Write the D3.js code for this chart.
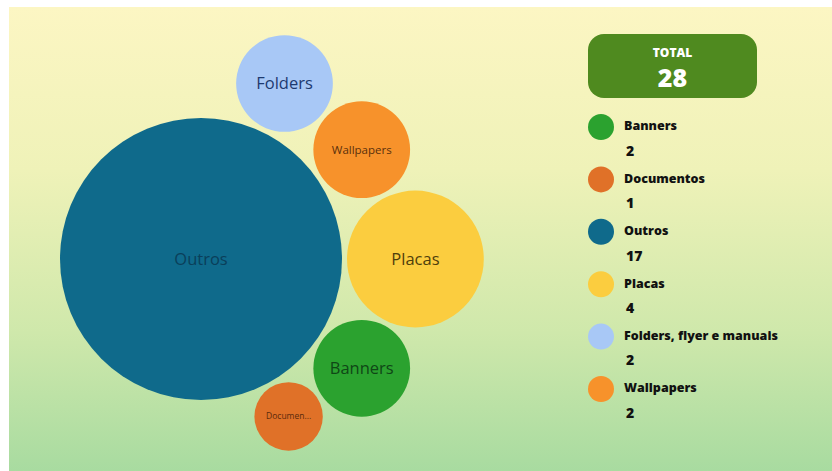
<!DOCTYPE html>
<html>
<head>
<meta charset="utf-8">
<script src="https://cdn.jsdelivr.net/npm/d3@7/dist/d3.min.js"></script>
<style>
html,body{margin:0;padding:0;background:#fff;}
svg{display:block;}
</style>
</head>
<body>
<script>
// ---- data ----
const categories = ["Banners", "Documentos", "Outros", "Placas", "Folders, flyer e manuais", "Wallpapers"];
const values = [2, 1, 17, 4, 2, 2];
const bubbleLabels = ["Banners", "Documen...", "Outros", "Placas", "Folders", "Wallpapers"];
const colors = ["#2ba22f", "#e07128", "#0f6a8b", "#fbcd3f", "#a8c8f6", "#f7922b"];
const labelColors = ["#0f4716", "#5a2a0c", "#0a3f5a", "#4f3f0c", "#1d3a70", "#5a300c"];
const totalLabel = "TOTAL";

const W = 832, H = 471;
const svg = d3.select("body").append("svg").attr("width", W).attr("height", H);

// background
const defs = svg.append("defs");
const grad = defs.append("linearGradient").attr("id", "bg").attr("x1", 0).attr("y1", 0).attr("x2", 0).attr("y2", 1);
grad.append("stop").attr("offset", "0%").attr("stop-color", "#fcf6c3");
grad.append("stop").attr("offset", "35%").attr("stop-color", "#eff2b8");
grad.append("stop").attr("offset", "70%").attr("stop-color", "#cfe8ab");
grad.append("stop").attr("offset", "100%").attr("stop-color", "#a8dba0");
svg.append("rect").attr("x", 9).attr("y", 7).attr("width", W - 9).attr("height", H - 7).attr("fill", "url(#bg)");

// ---- bubbles ----
const data = categories.map((c, i) => ({ name: c, label: bubbleLabels[i], value: values[i], color: colors[i], lc: labelColors[i] }));
const rScale = d3.scaleSqrt().domain([0, d3.max(values)]).range([0, 141]);
data.forEach(d => d.r = rScale(d.value));
const byName = n => data.find(d => d.name === n);
const pad = 5;

// tangent placement of circle c touching a and b (side: +1 / -1)
function place(a, b, c, side) {
  const d1 = a.r + c.r + pad, d2 = b.r + c.r + pad;
  const dx = b.x - a.x, dy = b.y - a.y, D = Math.hypot(dx, dy);
  const x = (d1 * d1 - d2 * d2 + D * D) / (2 * D);
  const h = Math.sqrt(Math.max(0, d1 * d1 - x * x));
  const ux = dx / D, uy = dy / D;
  c.x = a.x + ux * x - uy * h * side;
  c.y = a.y + uy * x + ux * h * side;
}
const outros = byName("Outros"), placas = byName("Placas"), wall = byName("Wallpapers"),
      folders = byName("Folders, flyer e manuais"), banners = byName("Banners"), docs = byName("Documentos");
outros.x = 0; outros.y = 0;
placas.x = outros.r + placas.r + pad; placas.y = 0;
place(outros, placas, wall, -1);
place(outros, wall, folders, -1);
place(outros, placas, banners, 1);
place(outros, banners, docs, 1);

const cx = 201, cy = 259;
const g = svg.append("g").attr("transform", `translate(${cx},${cy})`);
const node = g.selectAll("g.b").data(data).join("g").attr("class", "b")
  .attr("transform", d => `translate(${d.x},${d.y})`);
node.append("circle").attr("r", d => d.r).attr("fill", d => d.color);
const fs = d => d.label === "Wallpapers" ? 11.5 : (d.value === 1 ? 8.5 : 16.5);
node.append("text")
  .attr("text-anchor", "middle").attr("dy", "0.35em")
  .attr("font-family", "'Open Sans', sans-serif")
  .attr("font-size", fs)
  .attr("fill", d => d.lc)
  .text(d => d.label);

// ---- total box ----
const tg = svg.append("g");
tg.append("rect").attr("x", 588).attr("y", 34).attr("width", 169).attr("height", 64).attr("rx", 16)
  .attr("fill", "#4f8a1f");
tg.append("text").attr("x", 672.5).attr("y", 57).attr("text-anchor", "middle")
  .attr("font-family", "'Open Sans', sans-serif").attr("font-weight", 800).attr("font-size", 12)
  .attr("fill", "#fff").text(totalLabel);
tg.append("text").attr("x", 672.5).attr("y", 87).attr("text-anchor", "middle")
  .attr("font-family", "'Open Sans', sans-serif").attr("font-weight", 800).attr("font-size", 25)
  .attr("fill", "#fff").text(d3.sum(values));

// ---- legend ----
const ly = d3.scalePoint().domain(categories).range([127, 389]);
const lg = svg.append("g").selectAll("g").data(data).join("g")
  .attr("transform", d => `translate(601,${ly(d.name)})`);
lg.append("circle").attr("r", 13).attr("fill", d => d.color);
lg.append("text").attr("x", 23).attr("y", -1).attr("dy", "0.35em")
  .attr("font-family", "'Open Sans', sans-serif").attr("font-weight", 800).attr("font-size", 12.5)
  .attr("fill", "#111").text(d => d.name);
lg.append("text").attr("x", 25).attr("y", 24).attr("dy", "0.35em")
  .attr("font-family", "'Open Sans', sans-serif").attr("font-weight", 800).attr("font-size", 14)
  .attr("fill", "#111").text(d => d.value);
</script>
</body>
</html>
